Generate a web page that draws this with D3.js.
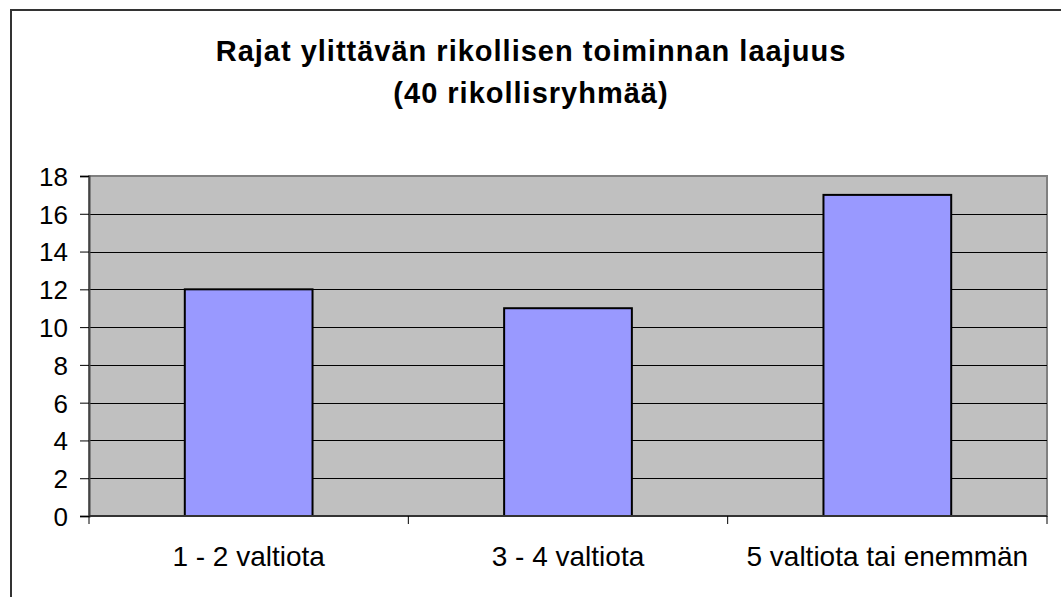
<!DOCTYPE html>
<html lang="fi">
<head>
    <meta charset="UTF-8">
    <script src="https://d3js.org/d3.v7.min.js"></script>
    <style>
        body { margin: 0; background: #fff; }
        svg { display: block; font-family: Arial, "Liberation Sans", sans-serif; }
    </style>
    <title>Rajat ylittävän rikollisen toiminnan laajuus</title>
</head>
<body>
<script>
    // chart data
    const categories = ["1 - 2 valtiota", "3 - 4 valtiota", "5 valtiota tai enemmän"];
    const values = [12, 11, 17];
    const yTicks = [0, 2, 4, 6, 8, 10, 12, 14, 16, 18];
    const titleLines = ["Rajat ylittävän rikollisen toiminnan laajuus", "(40 rikollisryhmää)"];

    const width = 1061, height = 597;
    const plot = { left: 89, right: 1047, top: 176, bottom: 516 };

    const svg = d3.select("body").append("svg")
        .attr("width", width)
        .attr("height", height);

    // outer chart frame (right and bottom edges fall outside the picture)
    svg.append("rect")
        .attr("x", 11).attr("y", 10)
        .attr("width", width + 20).attr("height", height + 20)
        .attr("fill", "#fff")
        .attr("stroke", "#333")
        .attr("stroke-width", 2);

    // title
    svg.append("text")
        .attr("text-anchor", "middle")
        .attr("font-weight", "bold")
        .attr("font-size", 29)
        .attr("letter-spacing", 1)
        .selectAll("tspan")
        .data(titleLines)
        .enter().append("tspan")
        .attr("x", 531)
        .attr("y", (d, i) => 61 + i * 42)
        .text(d => d);

    const x = d3.scaleBand()
        .domain(categories)
        .range([plot.left, plot.right])
        .paddingInner(0.6)
        .paddingOuter(0.3);

    const y = d3.scaleLinear()
        .domain([0, 18])
        .range([plot.bottom, plot.top]);

    // plot background
    svg.append("rect")
        .attr("x", plot.left).attr("y", plot.top)
        .attr("width", plot.right - plot.left)
        .attr("height", plot.bottom - plot.top)
        .attr("fill", "#c0c0c0")
        .attr("stroke", "#808080")
        .attr("stroke-width", 2);

    // gridlines
    svg.append("g")
        .selectAll("line")
        .data(yTicks.filter(d => d > 0 && d < 18))
        .enter().append("line")
        .attr("x1", plot.left).attr("x2", plot.right)
        .attr("y1", d => Math.round(y(d)) + 0.5)
        .attr("y2", d => Math.round(y(d)) + 0.5)
        .attr("stroke", "#000")
        .attr("stroke-width", 1);

    // bars
    svg.append("g")
        .selectAll("rect")
        .data(values)
        .enter().append("rect")
        .attr("x", (d, i) => x(categories[i]))
        .attr("y", d => y(d))
        .attr("width", x.bandwidth())
        .attr("height", d => y(0) - y(d))
        .attr("fill", "#9999ff")
        .attr("stroke", "#000")
        .attr("stroke-width", 2);

    // y axis
    const yAxis = svg.append("g")
        .attr("transform", `translate(${plot.left},0)`)
        .call(d3.axisLeft(y).tickValues(yTicks).tickSize(9).tickPadding(12).tickFormat(d3.format("d")));
    yAxis.select(".domain").attr("stroke", "#444").attr("stroke-width", 2);
    yAxis.selectAll(".tick line").attr("stroke", "#000");
    yAxis.selectAll("text")
        .attr("font-size", 26)
        .attr("font-family", "Arial, 'Liberation Sans', sans-serif")
        .attr("fill", "#000")
        .attr("dy", "0.36em");

    // x axis with ticks at category boundaries
    const xAxis = svg.append("g")
        .attr("transform", `translate(0,${plot.bottom})`);
    xAxis.append("line")
        .attr("x1", plot.left).attr("x2", plot.right)
        .attr("stroke", "#333").attr("stroke-width", 2);
    const bounds = categories.map(c => x(c) - x.step() * x.paddingOuter()).concat([plot.right]);
    xAxis.selectAll("line.tk")
        .data(bounds)
        .enter().append("line")
        .attr("class", "tk")
        .attr("x1", d => d).attr("x2", d => d)
        .attr("y1", 0).attr("y2", 8)
        .attr("stroke", "#000");
    xAxis.selectAll("text")
        .data(categories)
        .enter().append("text")
        .attr("x", d => x(d) + x.bandwidth() / 2)
        .attr("y", 50)
        .attr("text-anchor", "middle")
        .attr("font-size", 28)
        .text(d => d);
</script>
</body>
</html>
